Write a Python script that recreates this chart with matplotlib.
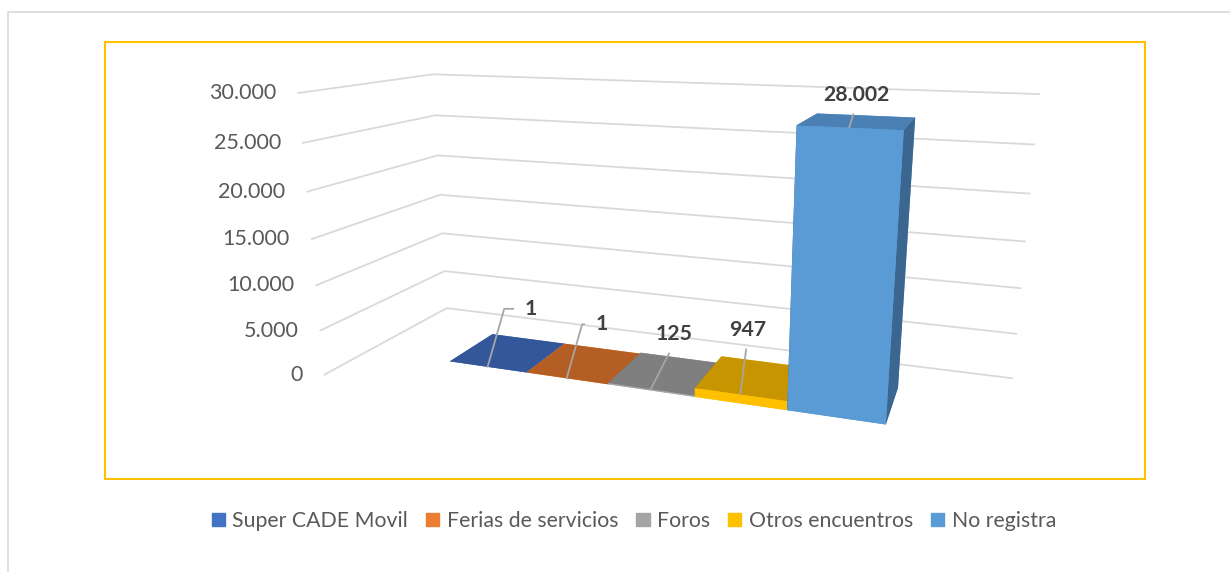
import matplotlib.pyplot as plt
import numpy as np
from matplotlib.patches import Rectangle, Patch
from mpl_toolkits.mplot3d import proj3d

series = ['Super CADE Movil', 'Ferias de servicios', 'Foros', 'Otros encuentros', 'No registra']
values = [1, 1, 125, 947, 28002]
value_labels = ['1', '1', '125', '947', '28.002']
z_ticks = [0, 5000, 10000, 15000, 20000, 25000, 30000]
z_tick_labels = ['0', '5.000', '10.000', '15.000', '20.000', '25.000', '30.000']

front_col = ['#4472C4', '#ED7D31', '#A5A5A5', '#FFC000', '#5B9BD5']
top_col = ['#335799', '#B55E23', '#7F7F7F', '#C79500', '#4A80B4']
side_col = ['#2E4F8A', '#9E521E', '#6E6E6E', '#A87E00', '#3A6690']

plt.rcParams['font.family'] = ['Lato', 'DejaVu Sans']
txt = '#595959'

# floor / bar geometry (3d units)
W = 6.6
D = 1.0
x0 = 1.004
bw = 0.9085
y0 = 0.3291
bd = 0.3917

fig = plt.figure(figsize=(12.3, 5.72), dpi=100)
fig.patches.append(Rectangle((8 / 1230, -0.1), 1.2, 1 - 12 / 572 + 0.1, transform=fig.transFigure,
                             fill=False, ec='#D9D9D9', lw=1.2))
fig.patches.append(Rectangle((105 / 1230, 1 - 479 / 572), 1040 / 1230, 437 / 572, transform=fig.transFigure,
                             fill=False, ec='#FFC000', lw=1.5))

ax = fig.add_axes([0.1116, 0.1435, 0.85, 0.85], projection='3d')
ax.set_proj_type('persp', focal_length=0.3693)
ax.view_init(elev=14.374, azim=-70.125)
ax.set_xlim(0, W)
ax.set_ylim(0, D)
ax.set_zlim(0, 30000)
ax.set_box_aspect((1, 0.3461, 0.4327), zoom=1.5383)
ax.set_axis_off()
M = ax.get_proj()

# side and back wall gridlines
for t in z_ticks:
    ax.plot([0, 0, W], [0, D, D], [t, t, t], color='#D9D9D9', lw=1.3, clip_on=False)

xs = x0 + bw * np.arange(len(values))
colors = []
for i in range(len(values)):
    # faces: bottom, top, front, back, left, right
    colors += [front_col[i], top_col[i], front_col[i], front_col[i], side_col[i], side_col[i]]
ax.bar3d(xs, np.full(len(values), y0), np.zeros(len(values)), bw, bd, values,
         color=colors, shade=False, clip_on=False)

for t, lab in zip(z_ticks, z_tick_labels):
    px, py, _ = proj3d.proj_transform(0, 0, t, M)
    ax.annotate(lab, (px, py), xytext=(-22, 0), textcoords='offset pixels', annotation_clip=False,
                ha='right', va='center', fontsize=15.5, color=txt)

offsets = [(43, 58), (35, 54), (23, 55), (7, 65), (7, 33)]
for i, (v, lab) in enumerate(zip(values, value_labels)):
    px, py, _ = proj3d.proj_transform(xs[i] + bw / 2, y0, v, M)
    if i < 2:
        ap = dict(arrowstyle='-', color='#A6A6A6', lw=1.3, relpos=(0, 0.5),
                  connectionstyle='angle,angleA=0,angleB=74,rad=0', shrinkA=6, shrinkB=0)
    else:
        ap = dict(arrowstyle='-', color='#A6A6A6', lw=1.3, relpos=(0.5, 0), shrinkA=5, shrinkB=0)
    ax.annotate(lab, (px, py), xytext=offsets[i], textcoords='offset pixels', annotation_clip=False,
                ha='center', va='center', fontsize=15.3, fontweight='bold', color='#404040',
                arrowprops=ap)

handles = [Patch(color=c) for c in front_col]
fig.legend(handles, series, loc='center', bbox_to_anchor=(634 / 1230, 1 - 521 / 572), ncol=5,
           frameon=False, fontsize=15.3, labelcolor=txt, handlelength=0.62, handleheight=0.62,
           handletextpad=0.35, columnspacing=0.85)

fig.savefig('out.png', dpi=100)
